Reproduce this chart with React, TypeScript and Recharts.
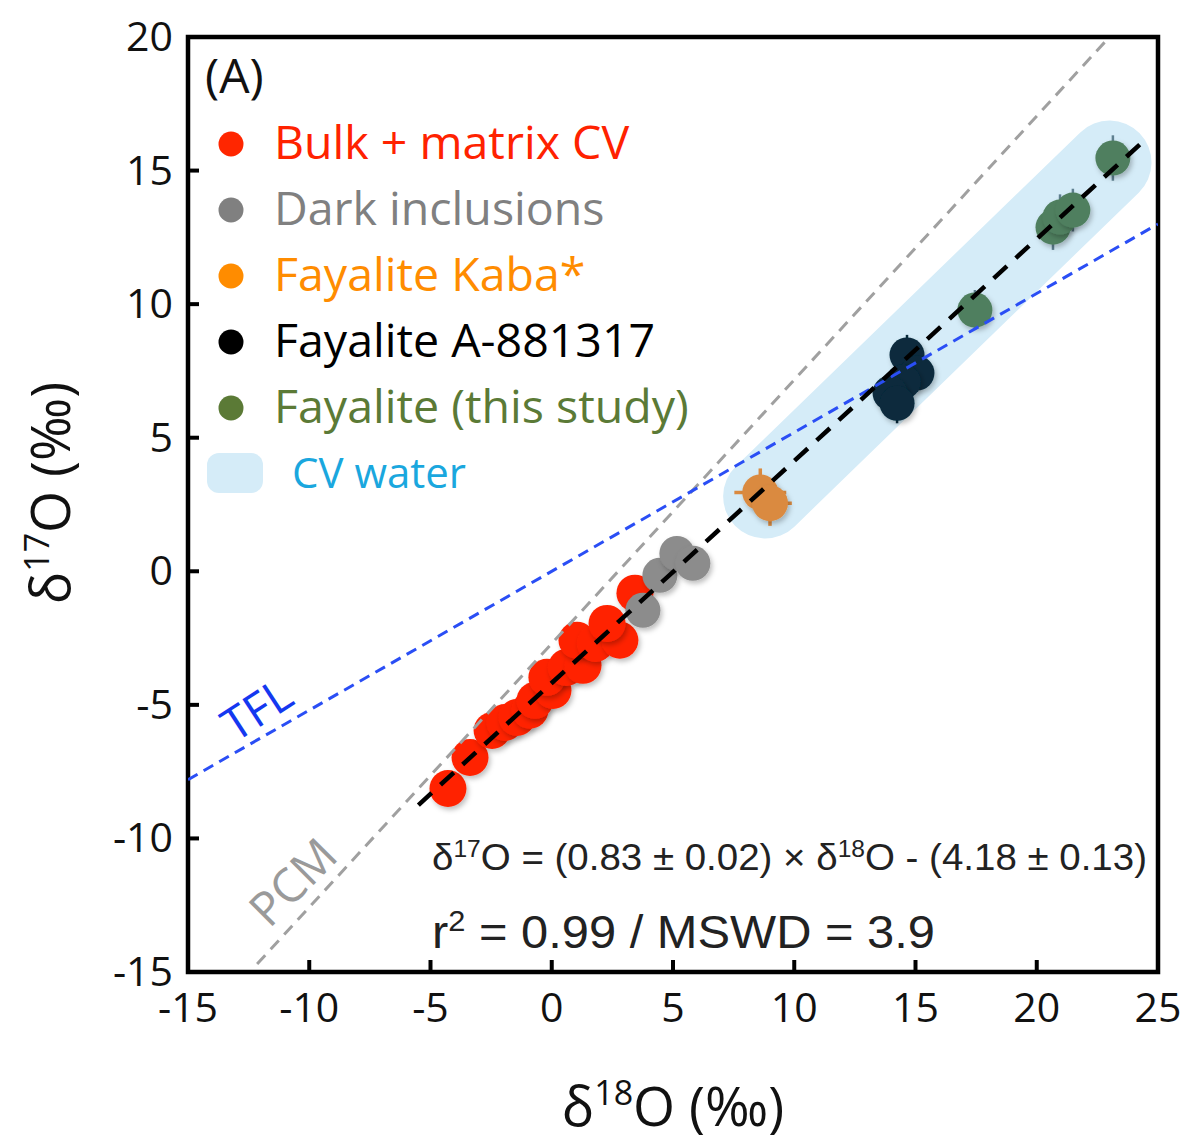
import React from 'react';
import {
  ScatterChart,
  Scatter,
  XAxis,
  YAxis,
  ReferenceArea,
  Legend,
  Customized,
} from 'recharts';

// ---------- data ----------
const bulkMatrixCV = [
  { x: -4.28, y: -8.13 },
  { x: -3.37, y: -6.97 },
  { x: -2.46, y: -5.96 },
  { x: -1.93, y: -5.66 },
  { x: -1.43, y: -5.47 },
  { x: -0.9, y: -5.2 },
  { x: -0.69, y: -4.83 },
  { x: 0.05, y: -4.46 },
  { x: -0.2, y: -3.97 },
  { x: 0.6, y: -3.6 },
  { x: 1.29, y: -3.52 },
  { x: 1.04, y: -2.58 },
  { x: 1.8, y: -2.7 },
  { x: 2.81, y: -2.58 },
  { x: 2.28, y: -1.95 },
  { x: 3.43, y: -0.82 },
];
const darkInclusions = [
  { x: 3.76, y: -1.46 },
  { x: 4.46, y: -0.15 },
  { x: 5.16, y: 0.67 },
  { x: 5.82, y: 0.3 },
];
const fayaliteKaba = [
  { x: 8.6, y: 2.95, ex: 1.07, ey: 0.9 },
  { x: 9.0, y: 2.55, ex: 0.9, ey: 0.85 },
];
const fayaliteA881317 = [
  { x: 14.65, y: 8.1, ex: 0.5, ey: 0.75 },
  { x: 15.06, y: 7.42, ex: 0.5, ey: 0.7 },
  { x: 14.5, y: 7.1, ex: 0.5, ey: 0.7 },
  { x: 13.95, y: 6.67, ex: 0.5, ey: 0.7 },
  { x: 14.24, y: 6.29, ex: 0.5, ey: 0.75 },
];
const fayaliteThisStudy = [
  { x: 17.45, y: 9.78, ex: 0.5, ey: 0.75 },
  { x: 20.67, y: 12.88, ex: 0.6, ey: 0.85 },
  { x: 20.96, y: 13.26, ex: 0.6, ey: 0.85 },
  { x: 21.49, y: 13.52, ex: 0.6, ey: 0.8 },
  { x: 23.14, y: 15.47, ex: 0.5, ey: 0.85 },
];
const regressionLine = [
  { x: -5.5, y: -8.75 },
  { x: 24.4, y: 16.1 },
];
const pcmLine = [
  { x: -12.15, y: -14.7 },
  { x: 23.0, y: 20.0 },
];
const tflLine = [
  { x: -15, y: -7.8 },
  { x: 25, y: 13.0 },
];
const cvWaterBand = [
  { x: 8.8, y: 2.8 },
  { x: 23.0, y: 15.3 },
];
const xTicks = [-15, -10, -5, 0, 5, 10, 15, 20, 25];
const yTicks = [-15, -10, -5, 0, 5, 10, 15, 20];

const legendLabels = [
  'Bulk + matrix CV',
  'Dark inclusions',
  'Fayalite Kaba*',
  'Fayalite A-881317',
  'Fayalite (this study)',
];
const legendTextColors = ['#ff2200', '#808080', '#ff8c00', '#000000', '#5b7a36'];
const legendDotColors = ['#ff2600', '#808080', '#ff8c00', '#000000', '#5b7a36'];
const bandLabel = 'CV water';

// ---------- styles ----------
const humanist = '"Open Sans", "DejaVu Sans", sans-serif';
const helv = '"Liberation Sans", Arial, sans-serif';

const COL = {
  red: '#ff2400',
  gray: '#8c8c8c',
  orange: '#da8a40',
  navy: '#082a3c',
  green: '#4f7f5f',
  band: '#d5ecf8',
};

// whisker segments (error bars) derived from the point arrays
type Pt = { x: number; y: number; ex: number; ey: number };
const whiskers = (pts: Pt[]) =>
  pts.flatMap((p) => [
    [
      { x: p.x - p.ex, y: p.y },
      { x: p.x + p.ex, y: p.y },
    ],
    [
      { x: p.x, y: p.y - p.ey },
      { x: p.x, y: p.y + p.ey },
    ],
  ]);

const dot = (color: string, r: number) => (props: any) => {
  const { cx, cy } = props;
  if (cx == null || cy == null) return <g />;
  return <circle cx={cx} cy={cy} r={r} fill={color} filter="url(#ptShadow)" />;
};
const noShape = () => <g />;

const XTick = (props: any) => {
  const { x, y, payload } = props;
  const v = payload.value;
  return (
    <g>
      {v > -15 && v < 25 && (
        <line x1={x} x2={x} y1={y} y2={y - 12} stroke="#000" strokeWidth={4} />
      )}
      <text x={x} y={y + 50} textAnchor="middle" fontSize={41} fontFamily={humanist} fill="#111">
        {v}
      </text>
    </g>
  );
};

const YTick = (props: any) => {
  const { x, y, payload } = props;
  const v = payload.value;
  return (
    <g>
      {v > -15 && v < 20 && (
        <line x1={x} x2={x + 11} y1={y} y2={y} stroke="#000" strokeWidth={4} />
      )}
      <text x={x - 15} y={y + 14} textAnchor="end" fontSize={41} fontFamily={humanist} fill="#111">
        {v}
      </text>
    </g>
  );
};

const LegendBox = () => (
  <svg width={720} height={520} style={{ display: 'block' }}>
    {legendLabels.map((lab, i) => {
      const base = 159 + i * 66;
      return (
        <g key={lab}>
          <circle cx={231} cy={base - 15} r={12.5} fill={legendDotColors[i]} />
          <text x={274} y={base} fontSize={46.5} fontFamily={humanist} fill={legendTextColors[i]}>
            {lab}
          </text>
        </g>
      );
    })}
    <rect x={207} y={453} width={56} height={40} rx={12} fill={COL.band} />
    <text x={292} y={488} fontSize={42} fontFamily={humanist} fill="#1aa7de">
      {bandLabel}
    </text>
  </svg>
);

const Annotations = () => (
  <g>
    <defs>
      <filter id="ptShadow" x="-50%" y="-50%" width="200%" height="200%">
        <feDropShadow dx="2" dy="3" stdDeviation="2.5" floodColor="#000" floodOpacity="0.25" />
      </filter>
    </defs>
    <text x={205} y={93} fontSize={48} fontFamily={humanist} fill="#111">
      (A)
    </text>
    <text
      x={432}
      y={870}
      fontSize={36}
      fontFamily={helv}
      fill="#222"
      textLength={715}
      lengthAdjust="spacingAndGlyphs"
    >
      <tspan>δ</tspan>
      <tspan dy={-13} fontSize={23}>17</tspan>
      <tspan dy={13}>O = (0.83 ± 0.02) × δ</tspan>
      <tspan dy={-13} fontSize={23}>18</tspan>
      <tspan dy={13}>O - (4.18 ± 0.13)</tspan>
    </text>
    <text
      x={432}
      y={948}
      fontSize={46}
      fontFamily={helv}
      fill="#222"
      textLength={503}
      lengthAdjust="spacingAndGlyphs"
    >
      <tspan>r</tspan>
      <tspan dy={-17} fontSize={29}>2</tspan>
      <tspan dy={17}> = 0.99 / MSWD = 3.9</tspan>
    </text>
    <text
      x={256}
      y={708}
      fontSize={46}
      fontFamily={humanist}
      fill="#1438f0"
      textAnchor="middle"
      dominantBaseline="central"
      transform="rotate(-33 256 708)"
    >
      TFL
    </text>
    <text
      x={292}
      y={881}
      fontSize={47}
      fontFamily={humanist}
      fill="#9a9a9a"
      textAnchor="middle"
      dominantBaseline="central"
      transform="rotate(-45 292 881)"
    >
      PCM
    </text>
    <text x={673} y={1126} fontSize={54} fontFamily={humanist} fill="#111" textAnchor="middle">
      <tspan>δ</tspan>
      <tspan dy={-21} fontSize={34}>18</tspan>
      <tspan dy={21}>O (‰)</tspan>
    </text>
    <text
      x={70}
      y={493}
      fontSize={54}
      fontFamily={humanist}
      fill="#111"
      textAnchor="middle"
      transform="rotate(-90 70 493)"
    >
      <tspan>δ</tspan>
      <tspan dy={-21} fontSize={34}>17</tspan>
      <tspan dy={21}>O (‰)</tspan>
    </text>
  </g>
);

const whiskerSeries = (pts: Pt[], color: string, w: number, key: string) =>
  whiskers(pts).map((seg, i) => (
    <Scatter
      key={`${key}-${i}`}
      data={seg}
      shape={noShape}
      legendType="none"
      line={{ stroke: color, strokeWidth: w }}
      isAnimationActive={false}
    />
  ));

export default function App() {
  return (
    <div style={{ position: 'absolute', left: 0, top: 0, width: 1192, height: 1144, background: '#fff' }}>
      <ScatterChart
        width={1192}
        height={1144}
        margin={{ top: 37, right: 34, bottom: 0, left: 0 }}
      >
        <XAxis
          type="number"
          dataKey="x"
          domain={[-15, 25]}
          ticks={xTicks}
          interval={0}
          allowDataOverflow
          height={172}
          axisLine={false}
          tickLine={false}
          tickSize={0}
          tickMargin={0}
          tick={<XTick />}
        />
        <YAxis
          type="number"
          dataKey="y"
          domain={[-15, 20]}
          ticks={yTicks}
          interval={0}
          allowDataOverflow
          width={188}
          axisLine={false}
          tickLine={false}
          tickSize={0}
          tickMargin={0}
          tick={<YTick />}
        />
        <Scatter
          name="band"
          data={cvWaterBand}
          shape={noShape}
          legendType="none"
          line={{ stroke: COL.band, strokeWidth: 84, strokeLinecap: 'round' }}
          isAnimationActive={false}
        />
        <Scatter name="Bulk + matrix CV" data={bulkMatrixCV} shape={dot(COL.red, 18.5)} isAnimationActive={false} />
        <Scatter name="Dark inclusions" data={darkInclusions} shape={dot(COL.gray, 17.5)} isAnimationActive={false} />
        {whiskerSeries(fayaliteKaba, COL.orange, 3.5, 'kaba')}
        <Scatter name="Fayalite Kaba*" data={fayaliteKaba} shape={dot(COL.orange, 18)} isAnimationActive={false} />
        {whiskerSeries(fayaliteA881317, COL.navy, 2.5, 'a88')}
        <Scatter name="Fayalite A-881317" data={fayaliteA881317} shape={dot(COL.navy, 17.5)} isAnimationActive={false} />
        {whiskerSeries(fayaliteThisStudy, '#5f8090', 2.5, 'fts')}
        <Scatter name="Fayalite (this study)" data={fayaliteThisStudy} shape={dot(COL.green, 17.5)} isAnimationActive={false} />
        <Scatter
          name="PCM"
          data={pcmLine}
          shape={noShape}
          legendType="none"
          line={{ stroke: '#a0a0a0', strokeWidth: 3, strokeDasharray: '12 8' }}
          isAnimationActive={false}
        />
        <Scatter
          name="TFL"
          data={tflLine}
          shape={noShape}
          legendType="none"
          line={{ stroke: '#2a4ef5', strokeWidth: 3, strokeDasharray: '11 7' }}
          isAnimationActive={false}
        />
        <Scatter
          name="regression"
          data={regressionLine}
          shape={noShape}
          legendType="none"
          line={{ stroke: '#000', strokeWidth: 4.5, strokeDasharray: '18 12' }}
          isAnimationActive={false}
        />
        <ReferenceArea
          x1={-15}
          x2={25}
          y1={-15}
          y2={20}
          fill="none"
          fillOpacity={0}
          stroke="#000"
          strokeWidth={4.5}
          ifOverflow="visible"
        />
        <Customized component={<Annotations />} />
        <Legend
          layout="horizontal"
          verticalAlign="middle"
          align="center"
          content={<LegendBox />}
          wrapperStyle={{ position: 'absolute', left: 0, top: 0, width: 720, height: 520, pointerEvents: 'none' }}
        />
      </ScatterChart>
    </div>
  );
}
